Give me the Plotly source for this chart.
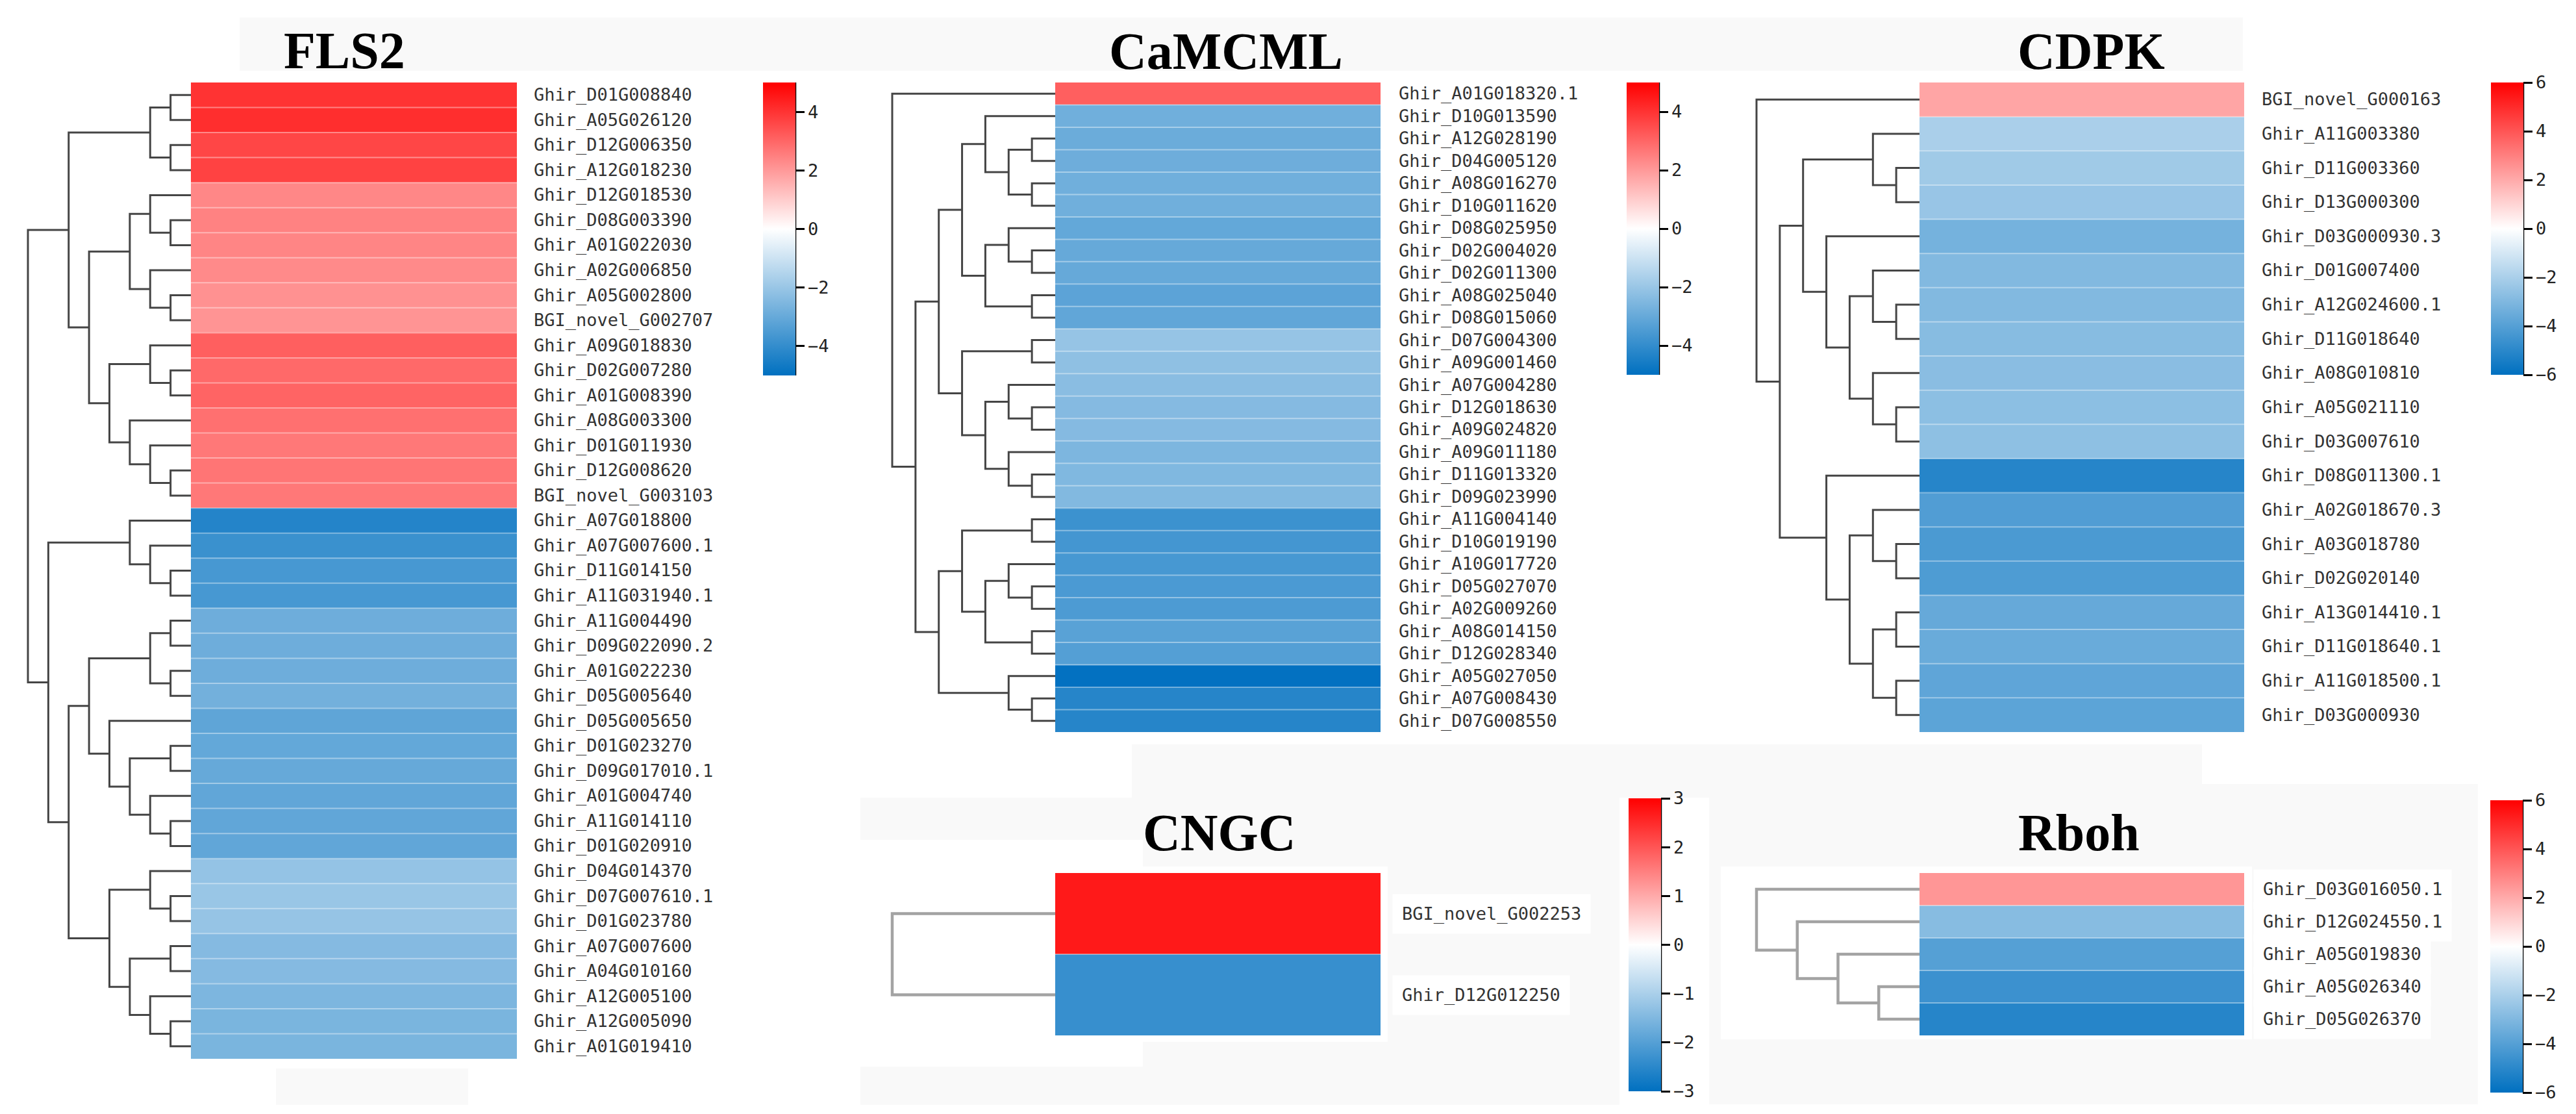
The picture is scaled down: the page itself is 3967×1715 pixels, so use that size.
import plotly.graph_objects as go

W, H = 3967, 1715

# ---------------- data ----------------
fls2_genes = ["Ghir_D01G008840", "Ghir_A05G026120", "Ghir_D12G006350", "Ghir_A12G018230",
              "Ghir_D12G018530", "Ghir_D08G003390", "Ghir_A01G022030", "Ghir_A02G006850",
              "Ghir_A05G002800", "BGI_novel_G002707", "Ghir_A09G018830", "Ghir_D02G007280",
              "Ghir_A01G008390", "Ghir_A08G003300", "Ghir_D01G011930", "Ghir_D12G008620",
              "BGI_novel_G003103", "Ghir_A07G018800", "Ghir_A07G007600.1", "Ghir_D11G014150",
              "Ghir_A11G031940.1", "Ghir_A11G004490", "Ghir_D09G022090.2", "Ghir_A01G022230",
              "Ghir_D05G005640", "Ghir_D05G005650", "Ghir_D01G023270", "Ghir_D09G017010.1",
              "Ghir_A01G004740", "Ghir_A11G014110", "Ghir_D01G020910", "Ghir_D04G014370",
              "Ghir_D07G007610.1", "Ghir_D01G023780", "Ghir_A07G007600", "Ghir_A04G010160",
              "Ghir_A12G005100", "Ghir_A12G005090", "Ghir_A01G019410"]
fls2_values = [4.0, 4.1, 3.63, 3.7, 2.35, 2.45, 2.4, 2.3, 2.15, 2.1,
               3.14, 2.94, 3.04, 2.8, 2.65, 2.7, 2.65,
               -4.3, -3.86, -3.6, -3.6,
               -2.85, -2.85, -2.85, -2.75,
               -3.14, -3.05, -3.0, -3.1, -3.1, -3.1,
               -2.1, -2.0, -2.05, -2.4, -2.4, -2.55, -2.6, -2.6]
fls2_tree = [[[[0, 1], [2, 3]],
              [[[4, [5, 6]], [7, [8, 9]]], [[10, [11, 12]], [13, [14, [15, 16]]]]]],
             [[17, [18, [19, 20]]],
              [[[[21, 22], [23, 24]], [25, [[26, 27], [28, [29, 30]]]]],
               [[31, [32, 33]], [[34, 35], [36, [37, 38]]]]]]]

camcml_genes = ["Ghir_A01G018320.1", "Ghir_D10G013590", "Ghir_A12G028190", "Ghir_D04G005120",
                "Ghir_A08G016270", "Ghir_D10G011620", "Ghir_D08G025950", "Ghir_D02G004020",
                "Ghir_D02G011300", "Ghir_A08G025040", "Ghir_D08G015060", "Ghir_D07G004300",
                "Ghir_A09G001460", "Ghir_A07G004280", "Ghir_D12G018630", "Ghir_A09G024820",
                "Ghir_A09G011180", "Ghir_D11G013320", "Ghir_D09G023990", "Ghir_A11G004140",
                "Ghir_D10G019190", "Ghir_A10G017720", "Ghir_D05G027070", "Ghir_A02G009260",
                "Ghir_A08G014150", "Ghir_D12G028340", "Ghir_A05G027050", "Ghir_A07G008430",
                "Ghir_D07G008550"]
camcml_values = [3.14, -2.8, -2.9, -2.85, -2.8, -2.8, -3.05, -3.0, -3.0, -3.2, -3.1,
                 -2.05, -2.2, -2.3, -2.4, -2.4, -2.55, -2.5, -2.45,
                 -3.82, -3.67, -3.6, -3.52, -3.5, -3.25, -3.35, -4.95, -4.25, -4.25]
camcml_tree = [0, [[[[1, [[2, 3], [4, 5]]], [[6, [7, 8]], [9, 10]]],
                    [[11, 12], [[13, [14, 15]], [16, [17, 18]]]]],
                   [[[19, 20], [[21, [22, 23]], [24, 25]]], [26, [27, 28]]]]]

cdpk_genes = ["BGI_novel_G000163", "Ghir_A11G003380", "Ghir_D11G003360", "Ghir_D13G000300",
              "Ghir_D03G000930.3", "Ghir_D01G007400", "Ghir_A12G024600.1", "Ghir_D11G018640",
              "Ghir_A08G010810", "Ghir_A05G021110", "Ghir_D03G007610", "Ghir_D08G011300.1",
              "Ghir_A02G018670.3", "Ghir_A03G018780", "Ghir_D02G020140", "Ghir_A13G014410.1",
              "Ghir_D11G018640.1", "Ghir_A11G018500.1", "Ghir_D03G000930"]
cdpk_values = [2.12, -2.0, -2.24, -2.42, -3.25, -2.94, -2.94, -2.82, -2.75, -2.7, -2.66,
               -5.1, -4.1, -4.24, -4.17, -3.6, -3.53, -3.76, -3.83]
cdpk_tree = [0, [[[1, [2, 3]], [4, [[5, [6, 7]], [8, [9, 10]]]]],
                 [11, [[12, [13, 14]], [[15, 16], [17, 18]]]]]]

cngc_genes = ["BGI_novel_G002253", "Ghir_D12G012250"]
cngc_values = [2.7, -2.35]
cngc_tree = [0, 1]

rboh_genes = ["Ghir_D03G016050.1", "Ghir_D12G024550.1", "Ghir_A05G019830",
              "Ghir_A05G026340", "Ghir_D05G026370"]
rboh_values = [2.47, -2.82, -4.0, -4.6, -5.1]
rboh_tree = [0, [1, [2, [3, 4]]]]

titles = ["FLS2", "CaMCML", "CDPK", "CNGC", "Rboh"]
color_limits = [5, 5, 6, 3, 6]
tick_steps = [2, 2, 2, 1, 2]

# ---------------- layout / styling (pixels) ----------------
panel_style = [
    dict(hm=(286, 788, 119, 1622), cb=(1167, 119, 451), lab=812, tt=(522, 70),
         lc="#454545", lw=3, boxed=False),
    dict(hm=(1617, 2118, 119, 1119), cb=(2497, 119, 450), lab=2144, tt=(1880, 71),
         lc="#454545", lw=3, boxed=False),
    dict(hm=(2948, 3448, 119, 1119), cb=(3828, 119, 450), lab=3473, tt=(3212, 71),
         lc="#454545", lw=3, boxed=False),
    dict(hm=(1617, 2118, 1336, 1586), cb=(2500, 1221, 451), lab=2150, tt=(1870, 1274),
         lc="#a3a3a3", lw=4.5, boxed=True),
    dict(hm=(2948, 3448, 1336, 1586), cb=(3827, 1224, 450), lab=3476, tt=(3193, 1274),
         lc="#a3a3a3", lw=4.5, boxed=True),
]
DENDRO_W = 251
colorscale = [[0, "#0070C0"], [0.5, "#FFFFFF"], [1, "#FF0000"]]

genes_all = [fls2_genes, camcml_genes, cdpk_genes, cngc_genes, rboh_genes]
values_all = [fls2_values, camcml_values, cdpk_values, cngc_values, rboh_values]
trees_all = [fls2_tree, camcml_tree, cdpk_tree, cngc_tree, rboh_tree]


def fx(p):
    return p / W


def fy(p):
    return 1 - p / H


def dendro_paths(tree):
    xs, ys = [], []

    def rec(node):
        if isinstance(node, int):
            return float(node), 0
        y1, h1 = rec(node[0])
        y2, h2 = rec(node[1])
        h = max(h1, h2) + 1
        xs.extend([h1, h, h, h2, None])
        ys.extend([y1, y1, y2, y2, None])
        return (y1 + y2) / 2, h

    _, top = rec(tree)
    return xs, ys, top


fig = go.Figure()
layout = {}
annotations = []
shapes = []

# faint background panels from the original collage
bg_rects = [
    (361, 19, 3446, 101, "#f9f9f9"),
    (417, 1637, 713, 1693, "#f9f9f9"),
    (1735, 1138, 3383, 1220, "#f9f9f9"),
    (1317, 1220, 2486, 1693, "#f9f9f9"),
    (1317, 1285, 1752, 1634, "#ffffff"),
    (1600, 1326, 2129, 1596, "#ffffff"),
    (2624, 1199, 3808, 1692, "#f9f9f9"),
    (2642, 1326, 3460, 1592, "#ffffff"),
]
for x0, y0, x1, y1, c in bg_rects:
    shapes.append(dict(type="rect", xref="paper", yref="paper", x0=fx(x0), x1=fx(x1),
                       y0=fy(y1), y1=fy(y0), fillcolor=c, line=dict(width=0), layer="below"))

ax = 1
for i in range(5):
    st = panel_style[i]
    genes, vals, tree = genes_all[i], values_all[i], trees_all[i]
    n = len(genes)
    hx0, hx1, hy0, hy1 = st["hm"]
    zl = color_limits[i]

    # heatmap axes
    xa, ya = f"x{ax}" if ax > 1 else "x", f"y{ax}" if ax > 1 else "y"
    layout[f"xaxis{ax}" if ax > 1 else "xaxis"] = dict(
        domain=[fx(hx0), fx(hx1)], range=[-0.5, 0.5], visible=False, anchor=ya, fixedrange=True)
    layout[f"yaxis{ax}" if ax > 1 else "yaxis"] = dict(
        domain=[fy(hy1), fy(hy0)], range=[n - 0.5, -0.5], visible=False, anchor=xa, fixedrange=True)

    cbx, cby, cbl = st["cb"]
    fig.add_trace(go.Heatmap(
        z=[[v] for v in vals], x=[0], y=list(range(n)), xaxis=xa, yaxis=ya,
        colorscale=colorscale, zmin=-zl, zmax=zl, showscale=True, hoverinfo="skip",
        colorbar=dict(
            x=fx(cbx), xanchor="left", y=fy(cby), yanchor="top", xpad=0, ypad=0,
            len=cbl, lenmode="pixels", thickness=50, thicknessmode="pixels",
            outlinewidth=0, ticks="outside", ticklen=14, tickwidth=2.5, tickcolor="black",
            tickmode="linear", tick0=0, dtick=tick_steps[i],
            tickfont=dict(family="DejaVu Sans Mono", size=27, color="#222222"))))
    shapes.append(dict(type="line", xref="paper", yref="paper",
                       x0=fx(cbx + 50), x1=fx(cbx + 50), y0=fy(cby), y1=fy(cby + cbl),
                       line=dict(color="black", width=2.5)))

    # row separators
    sx, sy = [], []
    for k in range(n - 1):
        sx.extend([-0.5, 0.5, None])
        sy.extend([k + 0.5, k + 0.5, None])
    if sx:
        fig.add_trace(go.Scatter(x=sx, y=sy, xaxis=xa, yaxis=ya, mode="lines",
                                 line=dict(color="rgba(255,255,255,0.4)", width=2),
                                 hoverinfo="skip", showlegend=False))

    # gene labels
    for k, g in enumerate(genes):
        a = dict(xref="paper", yref=ya, x=fx(st["lab"]), y=k, text=g, showarrow=False,
                 xanchor="left", yanchor="middle",
                 font=dict(family="DejaVu Sans Mono", size=27, color="#333333"))
        if st["boxed"]:
            a.update(bgcolor="white", borderpad=14, x=fx(st["lab"] - 14))
        annotations.append(a)

    # title
    annotations.append(dict(xref="paper", yref="paper", x=fx(st["tt"][0]), y=fy(st["tt"][1]),
                            text=titles[i], showarrow=False, xanchor="center", yanchor="middle",
                            font=dict(family="Liberation Serif", size=80, color="black",
                                      weight="bold")))

    # dendrogram axes
    ax += 1
    dxs, dys, top = dendro_paths(tree)
    pad = 0.03 * top
    pad_px = pad * DENDRO_W / top
    xa2, ya2 = f"x{ax}", f"y{ax}"
    layout[f"xaxis{ax}"] = dict(domain=[fx(hx0 - DENDRO_W - pad_px), fx(hx0 + pad_px)],
                                range=[top + pad, -pad], visible=False, anchor=ya2, fixedrange=True)
    layout[f"yaxis{ax}"] = dict(domain=[fy(hy1), fy(hy0)], range=[n - 0.5, -0.5],
                                visible=False, anchor=xa2, fixedrange=True)
    fig.add_trace(go.Scatter(x=dxs, y=dys, xaxis=xa2, yaxis=ya2, mode="lines",
                             line=dict(color=st["lc"], width=st["lw"], shape="linear"),
                             hoverinfo="skip", showlegend=False))
    ax += 1

fig.update_layout(**layout)
fig.update_layout(width=W, height=H, margin=dict(l=0, r=0, t=0, b=0),
                  paper_bgcolor="white", plot_bgcolor="rgba(0,0,0,0)", showlegend=False,
                  annotations=annotations, shapes=shapes)
fig.write_html("out.html")
